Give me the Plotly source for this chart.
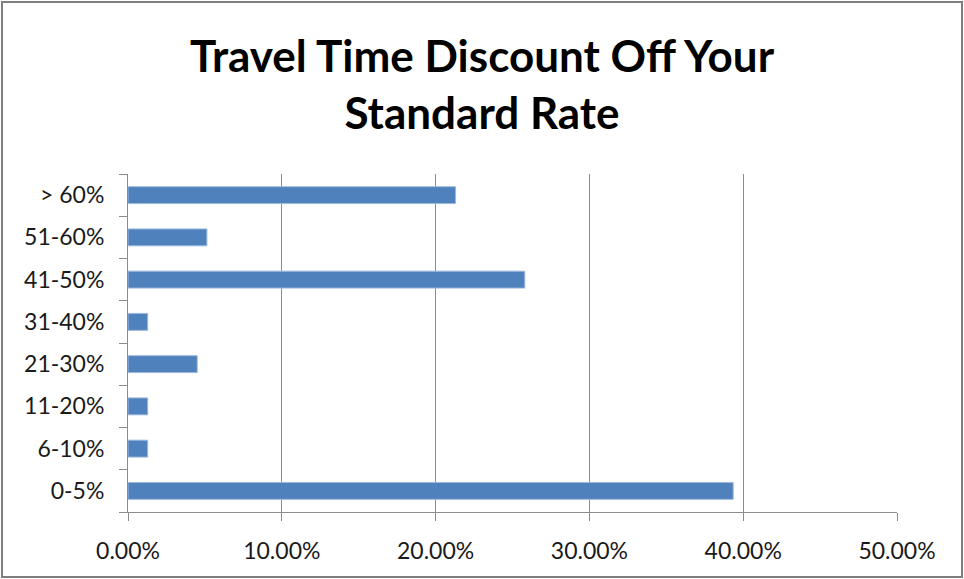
import plotly.graph_objects as go

# Survey responses: discount applied to travel time, share of respondents
categories = ["0-5%", "6-10%", "11-20%", "21-30%", "31-40%", "41-50%", "51-60%", "> 60%"]
shares = [0.3935, 0.0128, 0.0128, 0.0450, 0.0128, 0.2580, 0.0513, 0.2130]
x_ticks = [0.0, 0.1, 0.2, 0.3, 0.4, 0.5]
x_tick_labels = ["0.00%", "10.00%", "20.00%", "30.00%", "40.00%", "50.00%"]

W, H = 964, 579
ML, MR, MT, MB = 128, 67, 174, 67

fig = go.Figure(
    go.Bar(
        x=shares,
        y=categories,
        orientation="h",
        marker=dict(color="#4F81BD", line=dict(color="#9DB9DE", width=1)),
        hoverinfo="x+y",
    )
)

pw, ph = W - ML - MR, H - MT - MB
# frame around the whole chart, in paper coordinates
x0 = (2 - ML) / pw
x1 = (962 - ML) / pw
y0 = -(577 - (H - MB)) / ph
y1 = 1 + (MT - 2) / ph

fig.update_layout(
    width=W,
    height=H,
    margin=dict(l=ML, r=MR, t=MT, b=MB),
    paper_bgcolor="white",
    plot_bgcolor="white",
    bargap=0.6,
    showlegend=False,
    title=dict(
        text="Travel Time Discount Off Your<br>Standard Rate",
        x=0.5,
        xref="container",
        xanchor="center",
        y=1 - 72 / H,
        yref="container",
        yanchor="top",
        font=dict(family="Lato", size=44, color="black", weight="bold"),
    ),
    font=dict(family="Lato", size=23, color="#1a1a1a"),
    xaxis=dict(
        range=[0, 0.5],
        tickvals=x_ticks,
        ticktext=x_tick_labels,
        showgrid=True,
        gridcolor="#8C8C8C",
        gridwidth=1,
        showline=True,
        linecolor="#8C8C8C",
        linewidth=1,
        ticks="outside",
        ticklen=8,
        tickcolor="#8C8C8C",
        ticklabelstandoff=10,
        zeroline=False,
        fixedrange=True,
    ),
    yaxis=dict(
        categoryorder="array",
        categoryarray=categories,
        showline=True,
        linecolor="#8C8C8C",
        linewidth=1,
        ticks="outside",
        tickson="boundaries",
        ticklen=8,
        tickcolor="#8C8C8C",
        ticklabelstandoff=18,
        showgrid=False,
        fixedrange=True,
    ),
    shapes=[
        dict(
            type="rect",
            xref="paper",
            yref="paper",
            x0=x0,
            x1=x1,
            y0=y0,
            y1=y1,
            line=dict(color="#7F7F7F", width=2),
            fillcolor="rgba(0,0,0,0)",
            layer="below",
        )
    ],
)

fig.write_html("out.html")
